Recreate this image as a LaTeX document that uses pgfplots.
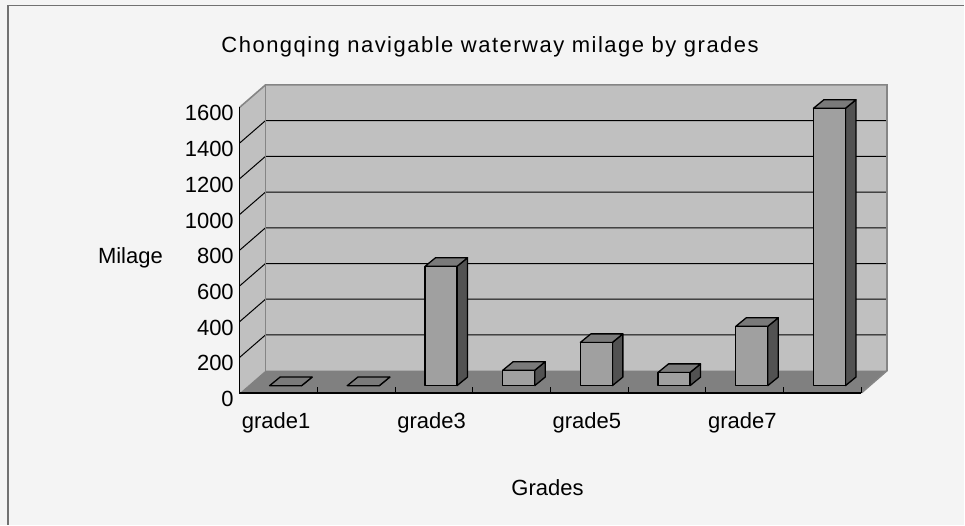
\documentclass[border=0pt]{standalone}
\usepackage{pgfplots}
\pgfplotsset{compat=1.18}
\usepackage{pgfplotstable}
\usepackage{fontspec}
\setmainfont{Liberation Sans}
\definecolor{bg}{HTML}{F4F4F4}
\definecolor{wall}{HTML}{C0C0C0}
\definecolor{floorc}{HTML}{808080}
\definecolor{edge}{HTML}{858585}
\definecolor{barfront}{HTML}{A0A0A0}
\definecolor{barside}{HTML}{525252}
\definecolor{bartop}{HTML}{7A7A7A}

\pgfplotstableread{
g v
1 0
2 0
3 668
4 86
5 242
6 74
7 332
8 1553
}\grades

\begin{document}
\begin{tikzpicture}
\fill[bg] (0,0) rectangle (482.5bp,262.5bp);
\draw[color=edge!85!black, line width=0.8bp] (4bp,0) -- (4bp,259.75bp) -- (482.5bp,259.75bp);
\begin{axis}[
  at={(120bp,65.85bp)}, anchor=south west,
  scale only axis, width=323.85bp, height=154.15bp,
  xmin=0.5, xmax=8.8305, ymin=0, ymax=1724.8,
  clip=false,
  axis line style={draw=none},
  major tick length=0pt,
  ytick={0,200,...,1600},
  scaled y ticks=false,
  /pgf/number format/1000 sep={},
  /pgf/number format/assume math mode=true,
  xtick={1,3,5,7},
  xticklabels={grade1,grade3,grade5,grade7},
  tick label style={font=\fontsize{11bp}{13bp}\selectfont, inner sep=0pt},
  yticklabel style={anchor=base east, xshift=-2.85bp, yshift=-6.85bp},
  xticklabel style={anchor=base, xshift=-1.25bp, yshift=-17.8bp},
  title={\addfontfeature{LetterSpace=6.8}Chongqing navigable waterway milage by grades},
  every axis title/.style={at={(axis description cs:0.3868,1.1051)}, anchor=base, inner sep=0pt, font=\fontsize{11bp}{13bp}\selectfont},
  xlabel={Grades},
  every axis x label/.style={at={(axis description cs:0.4755,-0.3321)}, anchor=base, inner sep=0pt, font=\fontsize{11bp}{13bp}\selectfont},
  ylabel={Milage},
  every axis y label/.style={at={(axis description cs:-0.169,0.4194)}, anchor=base, inner sep=0pt, font=\fontsize{11bp}{13bp}\selectfont},
]
% back wall and left wall
\addplot[fill=wall, draw=none] coordinates {(0.8305,124.8) (8.8305,124.8) (8.8305,1724.8) (0.8305,1724.8)} -- cycle;
\addplot[fill=wall, draw=none] coordinates {(0.5,0) (0.8305,124.8) (0.8305,1724.8) (0.5,1600)} -- cycle;
% gridlines
\addplot[black, line width=0.5bp] coordinates {(0.5,200) (0.8305,324.8) (8.8305,324.8)};
\addplot[black, line width=0.5bp] coordinates {(0.5,400) (0.8305,524.8) (8.8305,524.8)};
\addplot[black, line width=0.5bp] coordinates {(0.5,600) (0.8305,724.8) (8.8305,724.8)};
\addplot[black, line width=0.5bp] coordinates {(0.5,800) (0.8305,924.8) (8.8305,924.8)};
\addplot[black, line width=0.5bp] coordinates {(0.5,1000) (0.8305,1124.8) (8.8305,1124.8)};
\addplot[black, line width=0.5bp] coordinates {(0.5,1200) (0.8305,1324.8) (8.8305,1324.8)};
\addplot[black, line width=0.5bp] coordinates {(0.5,1400) (0.8305,1524.8) (8.8305,1524.8)};
% floor
\addplot[fill=floorc, draw=none] coordinates {(0.5,0) (8.5,0) (8.8305,124.8) (0.8305,124.8)} -- cycle;
% wall edges
\addplot[edge, line width=0.8bp] coordinates {(0.5,1600) (0.8305,1724.8) (8.8305,1724.8) (8.8305,124.8) (8.5,0)};
\addplot[edge, line width=0.8bp] coordinates {(0.8305,124.8) (0.8305,1724.8)};
% front edges
\addplot[black, line width=0.6bp] coordinates {(0.5,1600) (0.5,0) (8.5,0)};
\addplot[ycomb, black, line width=0.5bp] coordinates {(1.5,32) (2.5,32) (3.5,32) (4.5,32) (5.5,32) (6.5,32) (7.5,32) (8.5,32)};
% bars
\pgfplotsinvokeforeach{0,...,7}{%
  \pgfplotstablegetelem{#1}{v}\of\grades
  \pgfmathsetmacro\bv{\pgfplotsretval}
  \pgfmathsetmacro\bxL{#1+1-0.116}
  \pgfmathsetmacro\bxR{#1+1+0.296}
  \pgfmathsetmacro\bxLb{\bxL+0.135}
  \pgfmathsetmacro\bxRb{\bxR+0.135}
  \pgfmathsetmacro\byF{41+\bv}
  \pgfmathsetmacro\byB{89+\bv}
  \addplot[fill=barside, draw=black, line width=0.65bp, line join=round] coordinates {(\bxR,41) (\bxRb,89) (\bxRb,\byB) (\bxR,\byF)} -- cycle;
  \addplot[fill=bartop, draw=black, line width=0.65bp, line join=round] coordinates {(\bxL,\byF) (\bxR,\byF) (\bxRb,\byB) (\bxLb,\byB)} -- cycle;
  \addplot[fill=barfront, draw=black, line width=0.65bp, line join=round] coordinates {(\bxL,41) (\bxR,41) (\bxR,\byF) (\bxL,\byF)} -- cycle;
}
\end{axis}
\end{tikzpicture}
\end{document}
